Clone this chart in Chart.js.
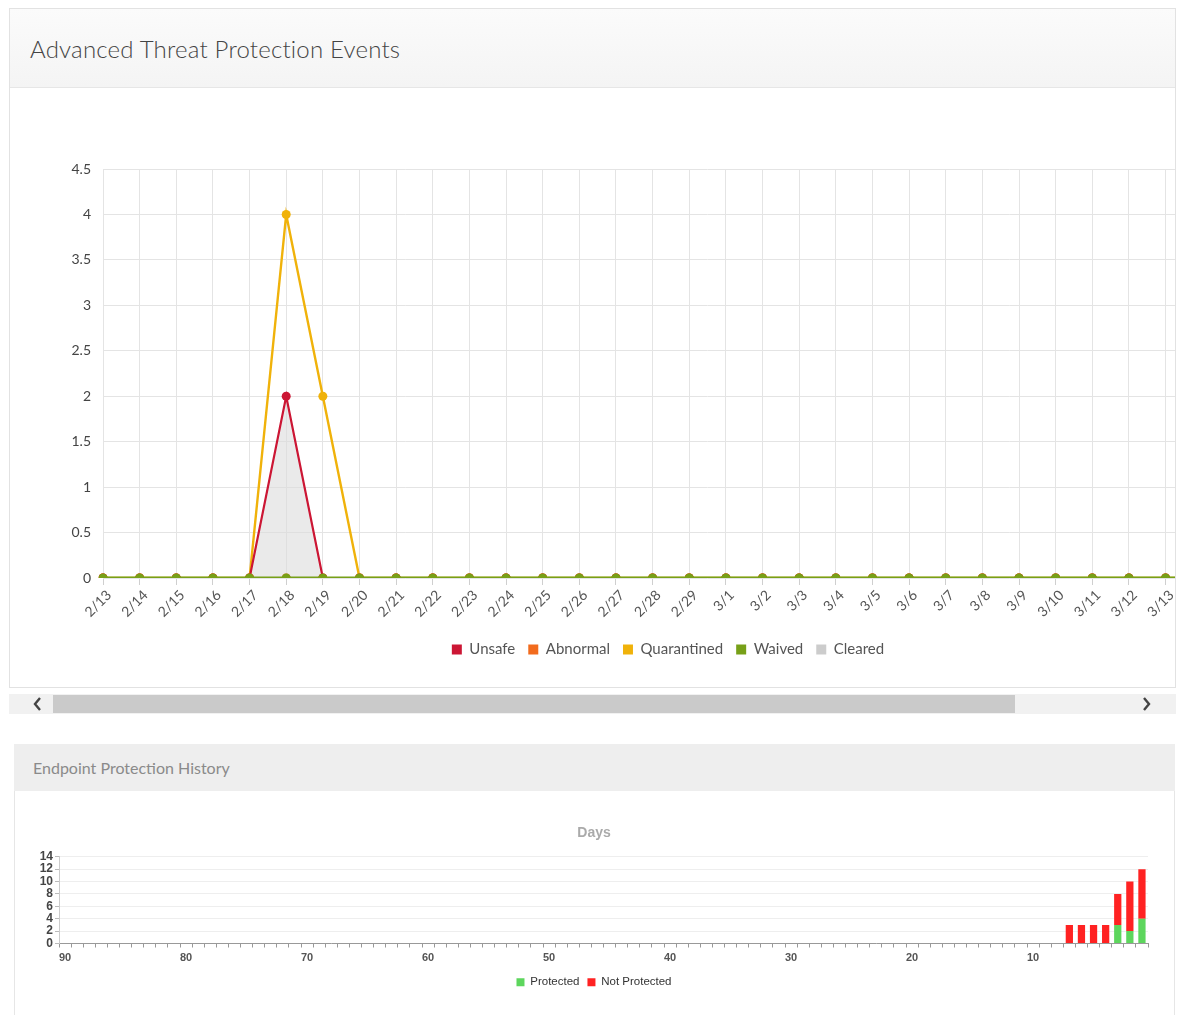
<!DOCTYPE html>
<html>
<head>
<meta charset="utf-8">
<script src="https://cdn.jsdelivr.net/npm/chart.js@4.4.1/dist/chart.umd.min.js"></script>
<style>
  html, body { margin: 0; padding: 0; background: #ffffff; }
  body { width: 1179px; height: 1015px; position: relative; overflow: hidden; font-family: Lato, "Open Sans", sans-serif; }
  #atpPanel { position: absolute; left: 9px; top: 8px; width: 1165px; height: 678px; border: 1px solid #e2e2e2; overflow: hidden; background: #fff; }
  #atpHeader { position: absolute; left: 0; top: 0; width: 100%; height: 78px; background: linear-gradient(#fbfbfb, #f4f4f4); border-bottom: 1px solid #e6e6e6; }
  #atpTitle { position: absolute; left: 20px; top: 25px; font-size: 24px; font-weight: 300; color: #444; letter-spacing: 0.2px; white-space: nowrap; }
  #atpWrap { position: absolute; left: 0; top: 79px; width: 1316px; height: 599px; }
  #scroll { position: absolute; left: 9px; top: 694px; width: 1167px; height: 20px; background: #f1f1f1; }
  #thumb { position: absolute; left: 44px; top: 1px; width: 962px; height: 18px; background: #cacaca; }
  #arrL { position: absolute; left: 22px; top: 2px; }
  #arrR { position: absolute; left: 1132px; top: 2px; }
  #epPanel { position: absolute; left: 14px; top: 744px; width: 1159px; height: 290px; border: 1px solid #e6e6e6; border-top: none; background: #fff; }
  #epHeader { position: absolute; left: -1px; top: 0; width: 1161px; height: 47px; background: #eeeeee; }
  #epTitle { position: absolute; left: 19px; top: 14px; font-size: 16px; color: #8a8a8a; white-space: nowrap; }
  #epWrap { position: absolute; left: 0; top: 48px; width: 1159px; height: 210px; }
</style>
</head>
<body>
<div id="atpPanel">
  <div id="atpHeader"><div id="atpTitle">Advanced Threat Protection Events</div></div>
  <div id="atpWrap"><canvas id="atpChart" width="1316" height="599"></canvas></div>
</div>
<div id="scroll">
  <div id="thumb"></div>
  <svg id="arrL" width="12" height="16"><polyline points="9,2 4,8 9,14" fill="none" stroke="#444" stroke-width="2.4"/></svg>
  <svg id="arrR" width="12" height="16"><polyline points="3,2 8,8 3,14" fill="none" stroke="#444" stroke-width="2.4"/></svg>
</div>
<div id="epPanel">
  <div id="epHeader"><div id="epTitle">Endpoint Protection History</div></div>
  <div id="epWrap"><canvas id="epChart" width="1159" height="210"></canvas></div>
</div>
<script>
// ---------- Advanced Threat Protection Events data ----------
const dates = ['2/13','2/14','2/15','2/16','2/17','2/18','2/19','2/20','2/21','2/22','2/23','2/24','2/25','2/26','2/27','2/28','2/29',
  '3/1','3/2','3/3','3/4','3/5','3/6','3/7','3/8','3/9','3/10','3/11','3/12','3/13','3/14','3/15','3/16','3/17'];
const unsafe      = [0,0,0,0,0,2,0,0,0,0,0,0,0,0,0,0,0,0,0,0,0,0,0,0,0,0,0,0,0,0,0,0,0,0];
const abnormal    = [0,0,0,0,0,0,0,0,0,0,0,0,0,0,0,0,0,0,0,0,0,0,0,0,0,0,0,0,0,0,0,0,0,0];
const quarantined = [0,0,0,0,0,4,2,0,0,0,0,0,0,0,0,0,0,0,0,0,0,0,0,0,0,0,0,0,0,0,0,0,0,0];
const waived      = [0,0,0,0,0,0,0,0,0,0,0,0,0,0,0,0,0,0,0,0,0,0,0,0,0,0,0,0,0,0,0,0,0,0];
const cleared     = [0,0,0,0,0,2,0,0,0,0,0,0,0,0,0,0,0,0,0,0,0,0,0,0,0,0,0,0,0,0,0,0,0,0];
const atpYMax = 4.5;
const atpYStep = 0.5;

// ---------- Endpoint Protection History data ----------
const dayLabels = ['90','89','88','87','86','85','84','83','82','81','80','79','78','77','76','75','74','73','72','71',
  '70','69','68','67','66','65','64','63','62','61','60','59','58','57','56','55','54','53','52','51',
  '50','49','48','47','46','45','44','43','42','41','40','39','38','37','36','35','34','33','32','31',
  '30','29','28','27','26','25','24','23','22','21','20','19','18','17','16','15','14','13','12','11',
  '10','9','8','7','6','5','4','3','2','1'];
const recentDays = ['7','6','5','4','3','2','1'];
const protectedCounts    = [0,0,0,0,3,2,4];
const notProtectedCounts = [3,3,3,3,5,8,8];
const epYMax = 14;
const epYStep = 2;

const lineDs = (label, data, color, order, extra) => Object.assign({
  label, data, borderColor: color, backgroundColor: color, borderWidth: 2.2,
  pointRadius: 4.5, pointHoverRadius: 4.5, pointBackgroundColor: color, pointBorderWidth: 0,
  tension: 0, fill: false, order
}, extra || {});

new Chart(document.getElementById('atpChart'), {
  type: 'line',
  data: {
    labels: dates,
    datasets: [
      lineDs('Unsafe', unsafe, '#cc1634', 2),
      lineDs('Abnormal', abnormal, '#f26b1d', 4),
      lineDs('Quarantined', quarantined, '#f0b20a', 3, { borderWidth: 2.4 }),
      lineDs('Waived', waived, '#77a018', 1, { borderWidth: 3.2 }),
      lineDs('Cleared', cleared, '#cccccc', 5, { fill: 'origin', backgroundColor: 'rgba(220,220,220,0.6)', borderColor: 'rgba(200,200,200,0.6)', borderWidth: 1, pointRadius: 0 })
    ]
  },
  options: {
    responsive: false,
    animation: false,
    layout: { padding: { top: 81, right: 0, bottom: 20, left: 0 } },
    scales: {
      x: {
        offset: false,
        grid: { color: '#e4e4e4', drawTicks: true, tickLength: 7, tickColor: '#cfcfcf' },
        border: { display: false },
        ticks: { autoSkip: false, minRotation: 45, maxRotation: 45, padding: 2, labelOffset: 6, color: '#555', font: { family: 'Lato', size: 14 } },
        afterFit: (s) => { s.height = 51; }
      },
      y: {
        min: 0, max: atpYMax,
        grid: { color: '#e4e4e4', drawTicks: false },
        border: { display: false },
        ticks: { stepSize: atpYStep, padding: 12, color: '#444', font: { family: 'Lato', size: 14 }, callback: (v) => String(v) },
        afterFit: (s) => { s.width = 93; }
      }
    },
    plugins: {
      legend: {
        position: 'bottom',
        labels: {
          boxWidth: 10, boxHeight: 10, padding: 13, color: '#555',
          font: { family: 'Lato', size: 15 },
          sort: (a, b) => a.datasetIndex - b.datasetIndex,
          generateLabels: (chart) => chart.data.datasets.map((d, i) => ({
            text: d.label, fillStyle: i === 4 ? '#cccccc' : d.borderColor, strokeStyle: 'rgba(0,0,0,0)', lineWidth: 0,
            datasetIndex: i, hidden: false, fontColor: '#555'
          }))
        }
      },
      tooltip: { enabled: false }
    }
  }
});

new Chart(document.getElementById('epChart'), {
  type: 'bar',
  data: {
    labels: dayLabels,
    datasets: [
      { label: 'Protected', data: recentDays.map((d, i) => ({ x: d, y: protectedCounts[i] })), backgroundColor: '#5dd65d', barPercentage: 0.6, categoryPercentage: 1.0 },
      { label: 'Not Protected', data: recentDays.map((d, i) => ({ x: d, y: notProtectedCounts[i] })), backgroundColor: '#ff2222', barPercentage: 0.6, categoryPercentage: 1.0 }
    ]
  },
  options: {
    responsive: false,
    animation: false,
    layout: { padding: { top: 0, right: 26, bottom: 4, left: 25 } },
    scales: {
      x: {
        stacked: true,
        grid: { drawOnChartArea: false, drawTicks: true, tickLength: 4, color: '#999' },
        border: { display: true, color: '#999' },
        ticks: {
          autoSkip: false, maxRotation: 0, padding: 4, color: '#555',
          font: { family: 'Liberation Sans', size: 11, weight: 'bold' },
          callback: function (v) { const l = this.getLabelForValue(v); return (Number(l) % 10 === 0) ? l : ''; }
        },
        afterFit: (s) => { s.height = 25; }
      },
      y: {
        stacked: true, min: 0, max: epYMax,
        grid: { color: '#eeeeee', drawTicks: true, tickLength: 4, tickColor: '#bbb' },
        border: { display: true, color: '#cccccc' },
        ticks: { stepSize: epYStep, autoSkip: false, padding: 2, color: '#444', font: { family: 'Liberation Sans', size: 12, weight: 'bold', lineHeight: 1 } },
        afterFit: (s) => { s.width = 19; }
      }
    },
    plugins: {
      title: { display: true, text: 'Days', color: '#aaaaaa', font: { family: 'Liberation Sans', size: 14, weight: 'bold' }, padding: { top: 33, bottom: 15 } },
      legend: {
        position: 'bottom',
        labels: { boxWidth: 8, boxHeight: 8, padding: 8, color: '#333', font: { family: 'Liberation Sans', size: 11.5 } }
      },
      tooltip: { enabled: false }
    }
  }
});
</script>
</body>
</html>
